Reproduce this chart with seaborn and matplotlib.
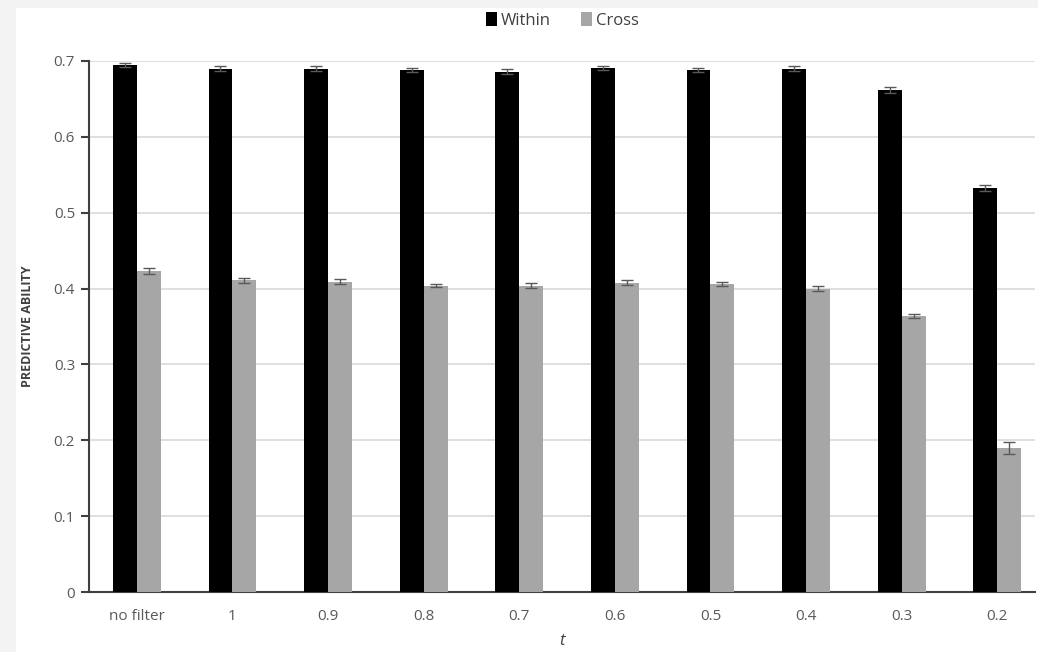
import matplotlib
matplotlib.use("Agg")
import matplotlib.pyplot as plt
import seaborn as sns
import pandas as pd
from matplotlib.patches import Rectangle

thresholds = ["no filter", "1", "0.9", "0.8", "0.7", "0.6", "0.5", "0.4", "0.3", "0.2"]
within = [0.695, 0.690, 0.690, 0.688, 0.686, 0.691, 0.688, 0.690, 0.662, 0.532]
cross = [0.423, 0.411, 0.409, 0.404, 0.404, 0.408, 0.406, 0.400, 0.364, 0.190]
within_err = [0.003, 0.003, 0.003, 0.003, 0.003, 0.003, 0.003, 0.003, 0.004, 0.004]
cross_err = [0.004, 0.003, 0.003, 0.002, 0.003, 0.003, 0.003, 0.003, 0.003, 0.008]

df = pd.DataFrame({
    "t": thresholds * 2,
    "value": within + cross,
    "err": within_err + cross_err,
    "group": ["Within"] * len(thresholds) + ["Cross"] * len(thresholds),
})

sns.set_style("white")
plt.rcParams['font.family'] = ['Open Sans', 'DejaVu Sans']

fig = plt.figure(figsize=(10.38, 6.52), dpi=100, facecolor="#f3f3f3")
fig.patches.append(Rectangle((16 / 1038, 0), 1, 1 - 8 / 652, transform=fig.transFigure,
                             facecolor="white", edgecolor="none", zorder=-5))
ax = fig.add_axes([89 / 1038, 1 - 592 / 652, (1035 - 89) / 1038, (592 - 61) / 652])
ax.set_facecolor("white")

sns.barplot(data=df, x="t", y="value", hue="group", order=thresholds,
            hue_order=["Within", "Cross"], palette={"Within": "black", "Cross": "#a6a6a6"},
            width=0.5, gap=0, errorbar=None, ax=ax, zorder=3, linewidth=0)

# error bars from the bar centres
for cont, grp in zip(ax.containers, ["Within", "Cross"]):
    sub = df[df.group == grp].set_index("t").loc[thresholds]
    xs = [p.get_x() + p.get_width() / 2 for p in cont.patches]
    ax.errorbar(xs, sub["value"], yerr=sub["err"], fmt="none", ecolor="#595959",
                elinewidth=1, capsize=4, capthick=1, zorder=4)

ax.set_ylim(0, 0.7)
ax.set_xlim(-0.5, 9.395)
ax.set_yticks([0, 0.1, 0.2, 0.3, 0.4, 0.5, 0.6, 0.7])
ax.set_yticklabels(["0", "0.1", "0.2", "0.3", "0.4", "0.5", "0.6", "0.7"])
ax.yaxis.grid(True, color="#d9d9d9", linewidth=1.2, zorder=0)
ax.set_axisbelow(True)
for s in ["top", "right"]:
    ax.spines[s].set_visible(False)
for s in ["left", "bottom"]:
    ax.spines[s].set_color("#404040")
    ax.spines[s].set_linewidth(1.5)
ax.tick_params(axis="y", which="major", left=True, length=6, width=1.5, color="#404040",
               labelsize=11, labelcolor="#595959", pad=4)
ax.tick_params(axis="x", bottom=False, labelsize=11, labelcolor="#595959", pad=9)

ax.set_ylabel("PREDICTIVE ABILITY", fontsize=9, fontweight="bold", color="#404040", labelpad=14)
ax.set_xlabel("t", fontsize=12, fontstyle="italic", color="#404040", labelpad=6)

ax.legend(loc="upper center", bbox_to_anchor=(0.5, 1.12), ncol=2, frameon=False,
          fontsize=12, handlelength=0.7, handleheight=0.9, handletextpad=0.2,
          columnspacing=1.8, labelcolor="#404040")

fig.savefig("out.png", dpi=100, facecolor=fig.get_facecolor())
